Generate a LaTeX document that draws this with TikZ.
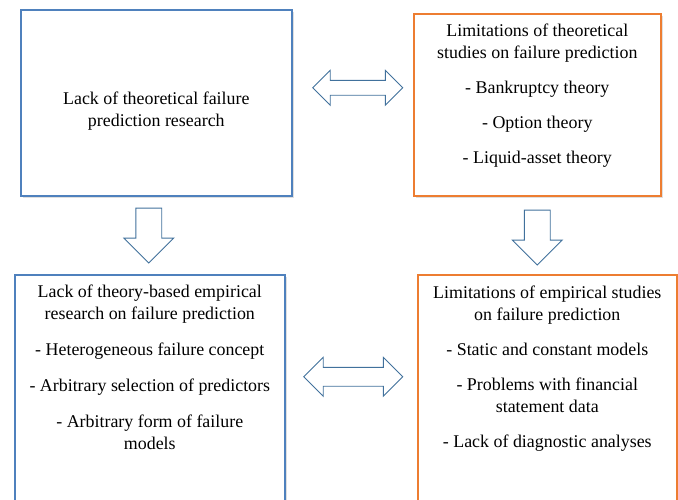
\documentclass[tikz,border=0pt]{standalone}
\usepackage{fontspec}
\setmainfont{Liberation Serif}
\usetikzlibrary{calc,positioning,shapes.arrows,shadows}
\definecolor{boxblue}{HTML}{4F81BD}
\definecolor{boxorange}{HTML}{ED7D31}
\definecolor{arrowblue}{HTML}{41719C}
\tikzstyle{block} = [rectangle, draw, line width=1.6pt, fill=white,
    anchor=north west, inner sep=0pt,
    drop shadow={shadow xshift=2.5pt, shadow yshift=-2.5pt, opacity=0.25}]
\tikzset{
  bluebox/.style={block, draw=boxblue},
  orangebox/.style={block, draw=boxorange},
  boxtext/.style={
    align=center,
    anchor=north,
    inner sep=0pt,
    font=\rmfamily\fontsize{17.9}{22}\selectfont},
  downarrow/.style={
    single arrow,
    draw=arrowblue, fill=white, line width=0.9pt,
    rotate=-90, anchor=tail,
    inner xsep=0pt, inner ysep=12.5pt,
    single arrow head extend=12pt,
    single arrow head indent=0pt,
    minimum height=55pt},
  twoway/.style={
    double arrow,
    draw=arrowblue, fill=white, line width=0.9pt,
    inner xsep=0pt,
    double arrow head extend=10pt,
    double arrow head indent=0pt},
}
\begin{document}
\begin{tikzpicture}[x=1pt, y=-1pt]
    \useasboundingbox (0,0) rectangle (678,499);
    \clip (0,0) rectangle (678,499);
    % Place nodes
    \node [bluebox, minimum width=271pt, minimum height=186pt] (theoryLack) at (20,9) {};
    \node [orangebox, minimum width=247pt, minimum height=182pt] (theoryLimits) at (413,13) {};
    \node [bluebox, minimum width=270pt, minimum height=246pt] (empiricLack) at (14,274) {};
    \node [orangebox, minimum width=259pt, minimum height=246pt] (empiricLimits) at (417,274) {};
    \node [boxtext] (theoryLackText) at ($(theoryLack.center)+(0,-11)$)
        {Lack of theoretical failure\\prediction research};
    \node [boxtext] (theoryLimitsText) at ($(theoryLimits.north)+(0,11)$)
        {Limitations of theoretical\\studies on failure prediction\\[13pt]
         - Bankruptcy theory\\[13pt] - Option theory\\[13pt] - Liquid-asset theory};
    \node [boxtext] (empiricLackText) at ($(empiricLack.north)+(0,11)$)
        {Lack of theory-based empirical\\research on failure prediction\\[14pt]
         - Heterogeneous failure concept\\[14pt] - Arbitrary selection of predictors\\[14pt]
         - Arbitrary form of failure\\models};
    \node [boxtext] (empiricLimitsText) at ($(empiricLimits.north)+(0,12)$)
        {Limitations of empirical studies\\on failure prediction\\[13pt]
         - Static and constant models\\[13pt] - Problems with financial\\statement data\\[13pt]
         - Lack of diagnostic analyses};
    % Draw edges
    \node [downarrow] (leftDown) at ($(theoryLack.south)+(-7.5,11)$) {};
    \node [downarrow] (rightDown) at ($(theoryLimits.south)+(0,13)$) {};
    \node [twoway, inner ysep=7pt, minimum height=90pt] (topBoth)
        at ($($(theoryLack.east)!0.5!(theoryLimits.west)$)+(5,-16)$) {};
    \node [twoway, inner ysep=9pt, minimum height=99pt] (bottomBoth)
        at ($($(empiricLack.east)!0.5!(empiricLimits.west)$)+(2,-21)$) {};
\end{tikzpicture}
\end{document}
